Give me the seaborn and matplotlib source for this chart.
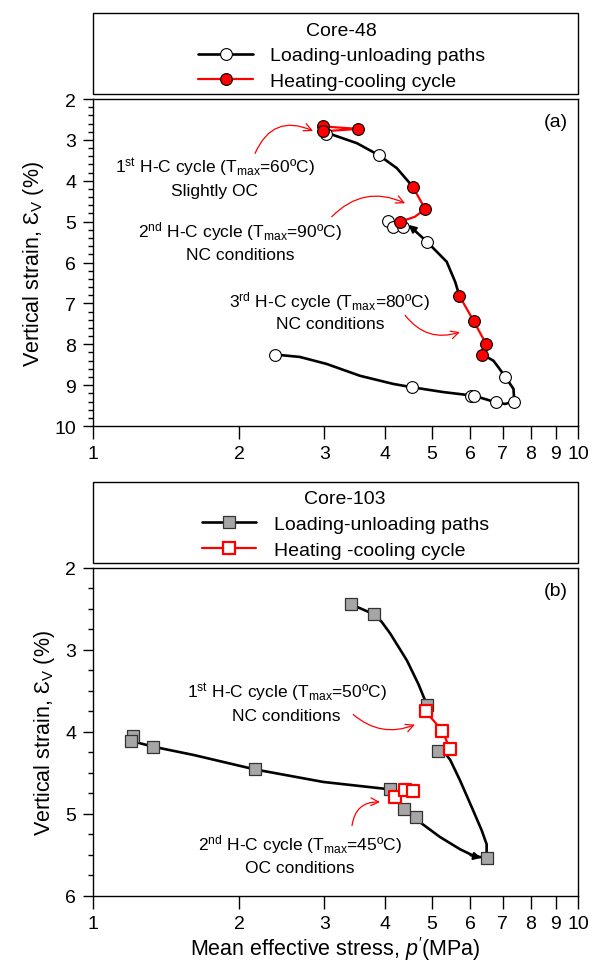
import matplotlib
matplotlib.use("Agg")
import matplotlib.pyplot as plt
import numpy as np
import pandas as pd
import seaborn as sns
from matplotlib.lines import Line2D
from matplotlib.patches import Rectangle
from matplotlib.ticker import FixedLocator, FixedFormatter, NullLocator, MultipleLocator

sns.set_theme(style="ticks", rc={
    "axes.edgecolor": "black", "text.color": "black", "axes.labelcolor": "black",
    "xtick.color": "black", "ytick.color": "black", "axes.linewidth": 1.0,
})
plt.rcParams["font.family"] = ["Liberation Sans", "DejaVu Sans"]
plt.rcParams["mathtext.fontset"] = "custom"
plt.rcParams["mathtext.rm"] = "Liberation Sans"
plt.rcParams["mathtext.it"] = "Liberation Sans:italic"
plt.rcParams["mathtext.bf"] = "Liberation Sans:bold"

# ---------------- Core-48 ----------------
# loading-unloading path (traced line), one id per continuous stretch
c48_path_seg = [0] * 7 + [1] * 5 + [2] * 16
c48_path_p = [3.00, 3.13, 3.50, 3.88, 4.23, 4.47, 4.57,
              4.55, 4.88, 5.36, 5.58, 5.69,
              6.35, 6.69, 6.85, 7.07, 7.36, 7.39, 7.07, 6.77, 6.11, 5.28, 4.54, 4.16,
              3.55, 3.03, 2.67, 2.37]
c48_path_e = [2.82, 2.88, 3.08, 3.37, 3.69, 4.02, 4.16,
              5.16, 5.49, 5.98, 6.47, 6.80,
              8.25, 8.40, 8.56, 8.79, 9.09, 9.40, 9.46, 9.42, 9.26, 9.17, 9.05, 8.97,
              8.77, 8.48, 8.31, 8.25]
# measured points on the loading-unloading path
c48_load_p = [3.02, 3.88, 4.05, 4.16, 4.36, 4.88, 7.07, 7.39, 6.77, 6.02, 6.11, 4.54, 2.37]
c48_load_e = [2.86, 3.37, 4.99, 5.12, 5.12, 5.49, 8.79, 9.40, 9.42, 9.26, 9.26, 9.05, 8.25]
# heating-cooling cycles
c48_hc_seg = [0] * 3 + [1] * 4 + [2] * 4
c48_hc_line_p = [2.98, 3.52, 2.98, 4.57, 4.84, 4.61, 4.30, 5.69, 6.10, 6.46, 6.35]
c48_hc_line_e = [2.79, 2.73, 2.67, 4.16, 4.69, 4.88, 5.00, 6.81, 7.44, 7.99, 8.25]
c48_hc_p = [2.98, 3.52, 2.98, 4.57, 4.84, 4.30, 5.69, 6.10, 6.46, 6.35]
c48_hc_e = [2.67, 2.73, 2.79, 4.16, 4.69, 5.00, 6.81, 7.44, 7.99, 8.25]

# ---------------- Core-103 ----------------
c103_path_seg = [0] * 7 + [1] * 8 + [2] * 13
c103_path_p = [3.40, 3.80, 3.94, 4.10, 4.44, 4.69, 4.88,
               5.15, 5.32, 5.45, 5.71, 6.04, 6.33, 6.48, 6.48,
               1.20, 1.331, 1.61, 2.158, 2.985, 4.10, 4.38, 4.63, 4.72, 5.19, 5.71, 6.09,
               6.48]
c103_path_e = [2.443, 2.566, 2.66, 2.80, 3.13, 3.42, 3.67,
               4.23, 4.26, 4.34, 4.59, 4.92, 5.20, 5.37, 5.54,
               4.11, 4.18, 4.28, 4.457, 4.61, 4.70, 4.94, 5.04, 5.10, 5.28, 5.43, 5.51,
               5.54]
c103_load_p = [3.40, 3.80, 4.88, 5.15, 6.48, 4.63, 4.38, 4.10, 2.158, 1.331, 1.207, 1.20]
c103_load_e = [2.443, 2.566, 3.67, 4.23, 5.54, 5.04, 4.94, 4.70, 4.457, 4.18, 4.05, 4.11]
c103_hc_seg = [0] * 4 + [1] * 3
c103_hc_line_p = [4.85, 5.25, 5.445, 5.15, 4.195, 4.40, 4.56]
c103_hc_line_e = [3.75, 3.985, 4.21, 4.23, 4.79, 4.71, 4.72]
c103_hc_p = [4.85, 5.25, 5.445, 4.195, 4.40, 4.56]
c103_hc_e = [3.75, 3.985, 4.21, 4.79, 4.71, 4.72]

x_ticks = [1, 2, 3, 4, 5, 6, 7, 8, 9, 10]
x_tick_labels = ["1", "2", "3", "4", "5", "6", "7", "8", "9", "10"]

RED = "#ff0000"
GREY = "#a6a6a6"
TICK_FS = 14
NOTE_FS = 12.5
LEG_FS = 14
LABEL_FS = 15.5

fig = plt.figure(figsize=(5.92, 9.62), dpi=100)
ax_a = fig.add_axes([0.1571, 0.5561, 0.8193, 0.3399])
ax_b = fig.add_axes([0.1571, 0.0676, 0.8193, 0.3410])


def style_axes(ax, ylim, yticks, yminor):
    ax.set_xscale("log")
    ax.set_xlim(1, 10)
    ax.set_ylim(*ylim)
    ax.xaxis.set_major_locator(FixedLocator(x_ticks))
    ax.xaxis.set_major_formatter(FixedFormatter(x_tick_labels))
    ax.xaxis.set_minor_locator(NullLocator())
    ax.yaxis.set_major_locator(FixedLocator(yticks))
    ax.yaxis.set_minor_locator(MultipleLocator(yminor))
    ax.tick_params(axis="x", which="major", direction="out", length=9, width=1,
                   labelsize=TICK_FS, pad=5, bottom=True, top=False)
    ax.tick_params(axis="y", which="major", direction="out", length=7, width=1,
                   labelsize=TICK_FS, pad=5, left=True, right=False)
    ax.tick_params(axis="y", which="minor", direction="out", length=3.5, width=1,
                   left=True, right=False)
    for s in ax.spines.values():
        s.set_visible(True)
        s.set_linewidth(1.0)
        s.set_color("black")
    ax.set_ylabel("Vertical strain, Ɛ$_{\\mathrm{V}}$ (%)", fontsize=LABEL_FS, labelpad=6)
    ax.set_xlabel("")


def draw_lines(ax, seg, p, e, color, lw):
    df = pd.DataFrame({"p": p, "e": e, "seg": seg})
    sns.lineplot(data=df, x="p", y="e", units="seg", estimator=None, sort=False,
                 color=color, lw=lw, ax=ax, legend=False, zorder=2)


def note(ax, text, txy, start, end, rad):
    ax.text(txy[0], txy[1], text, ha="center", va="center", fontsize=NOTE_FS,
            linespacing=1.4, zorder=5)
    ax.annotate("", xy=end, xytext=start,
                arrowprops=dict(arrowstyle="->", color=RED, lw=0.9,
                                connectionstyle=f"arc3,rad={rad}",
                                shrinkA=0, shrinkB=0, mutation_scale=14))


def framed_legend(ax, handles, labels, title, x_center):
    ax.add_patch(Rectangle((0, 1.0153), 1, 0.248, transform=ax.transAxes,
                           fill=False, edgecolor="black", lw=1, clip_on=False))
    ax.legend(handles, labels, title=title, loc="center",
              bbox_to_anchor=(x_center, 1.132), frameon=False, fontsize=LEG_FS,
              title_fontsize=LEG_FS, handlelength=2.8, handletextpad=0.9,
              labelspacing=0.42, borderpad=0.2)


# ---------------- panel (a) ----------------
draw_lines(ax_a, c48_path_seg, c48_path_p, c48_path_e, "black", 1.9)
draw_lines(ax_a, c48_hc_seg, c48_hc_line_p, c48_hc_line_e, RED, 1.6)
sns.scatterplot(x=c48_load_p, y=c48_load_e, marker="o", s=72, color="white",
                edgecolor="black", linewidth=0.8, ax=ax_a, zorder=3)
sns.scatterplot(x=c48_hc_p, y=c48_hc_e, marker="o", s=72, color=RED,
                edgecolor="black", linewidth=0.8, ax=ax_a, zorder=4)
ax_a.annotate("", xy=(4.47, 5.08), xytext=(4.62, 5.22),
              arrowprops=dict(arrowstyle="-|>", color="black", lw=1.5,
                              mutation_scale=11, shrinkA=0, shrinkB=0), zorder=3)
style_axes(ax_a, (10, 2), [2, 3, 4, 5, 6, 7, 8, 9, 10], 0.2)

note(ax_a, "$1^{\\mathrm{st}}$ H-C cycle ($\\mathrm{T}_{\\mathrm{max}}$=60ºC)\nSlightly OC",
     (1.784, 3.90), (2.158, 3.33), (2.842, 2.78), -0.5)
note(ax_a, "$2^{\\mathrm{nd}}$ H-C cycle ($\\mathrm{T}_{\\mathrm{max}}$=90ºC)\nNC conditions",
     (2.01, 5.47), (3.106, 4.88), (4.40, 4.55), -0.35)
note(ax_a, "$3^{\\mathrm{rd}}$ H-C cycle ($\\mathrm{T}_{\\mathrm{max}}$=80ºC)\nNC conditions",
     (3.08, 7.16), (4.40, 7.29), (5.71, 7.70), 0.35)
ax_a.text(0.955, 0.932, "(a)", transform=ax_a.transAxes, ha="center", va="center",
          fontsize=TICK_FS)

h_load_a = Line2D([], [], color="black", lw=1.9, marker="o", markersize=8.5,
                  markerfacecolor="white", markeredgecolor="black", markeredgewidth=0.8)
h_hc_a = Line2D([], [], color=RED, lw=1.6, marker="o", markersize=8.5,
                markerfacecolor=RED, markeredgecolor="black", markeredgewidth=0.8)
framed_legend(ax_a, [h_load_a, h_hc_a], ["Loading-unloading paths", "Heating-cooling cycle"],
              "Core-48", 0.513)

# ---------------- panel (b) ----------------
draw_lines(ax_b, c103_path_seg, c103_path_p, c103_path_e, "black", 1.9)
draw_lines(ax_b, c103_hc_seg, c103_hc_line_p, c103_hc_line_e, RED, 1.6)
sns.scatterplot(x=c103_load_p, y=c103_load_e, marker="s", s=64, color=GREY,
                edgecolor="#333333", linewidth=0.9, ax=ax_b, zorder=3)
sns.scatterplot(x=c103_hc_p, y=c103_hc_e, marker="s", s=64, color="white",
                edgecolor=RED, linewidth=1.6, ax=ax_b, zorder=4)
ax_b.annotate("", xy=(6.32, 5.535), xytext=(6.0, 5.505),
              arrowprops=dict(arrowstyle="-|>", color="black", lw=1.5,
                              mutation_scale=11, shrinkA=0, shrinkB=0), zorder=3)
style_axes(ax_b, (6, 2), [2, 3, 4, 5, 6], 0.25)
ax_b.set_xlabel("Mean effective stress, $p'$(MPa)", fontsize=LABEL_FS, labelpad=1)

note(ax_b, "$1^{\\mathrm{st}}$ H-C cycle ($\\mathrm{T}_{\\mathrm{max}}$=50ºC)\nNC conditions",
     (2.508, 3.634), (3.44, 3.788), (4.61, 3.911), 0.3)
note(ax_b, "$2^{\\mathrm{nd}}$ H-C cycle ($\\mathrm{T}_{\\mathrm{max}}$=45ºC)\nOC conditions",
     (2.672, 5.48), (3.42, 5.142), (3.906, 4.855), -0.45)
ax_b.text(0.955, 0.932, "(b)", transform=ax_b.transAxes, ha="center", va="center",
          fontsize=TICK_FS)

h_load_b = Line2D([], [], color="black", lw=1.9, marker="s", markersize=8,
                  markerfacecolor=GREY, markeredgecolor="#333333", markeredgewidth=0.9)
h_hc_b = Line2D([], [], color=RED, lw=1.6, marker="s", markersize=8,
                markerfacecolor="white", markeredgecolor=RED, markeredgewidth=1.6)
framed_legend(ax_b, [h_load_b, h_hc_b], ["Loading-unloading paths", "Heating -cooling cycle"],
              "Core-103", 0.52)

fig.savefig("out.png", dpi=100)
